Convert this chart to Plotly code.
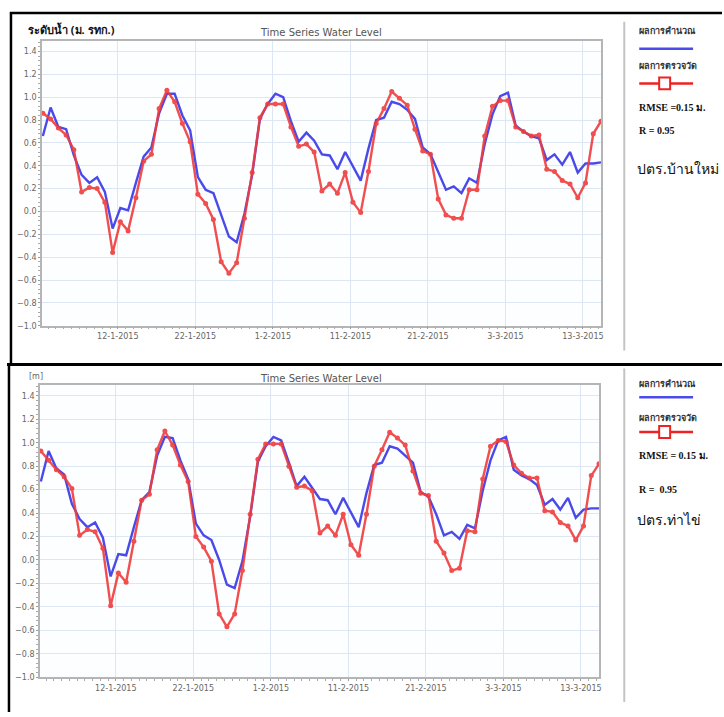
import pandas as pd
import plotly.graph_objects as go

# ---------------- data ----------------
start_time = "2015-01-02 08:00"
n_points = 73

top_computed = [0.66, 0.91, 0.74, 0.72, 0.49, 0.32, 0.25, 0.30, 0.17, -0.15,
                0.03, 0.01, 0.25, 0.48, 0.56, 0.86, 1.03, 1.03, 0.84, 0.71,
                0.30, 0.19, 0.16, -0.03, -0.22, -0.27, -0.02, 0.32, 0.81, 0.94,
                1.03, 1.00, 0.79, 0.61, 0.69, 0.62, 0.50, 0.49, 0.37, 0.52,
                0.39, 0.27, 0.55, 0.80, 0.82, 0.96, 0.94, 0.89, 0.81, 0.56,
                0.50, 0.34, 0.19, 0.22, 0.16, 0.29, 0.25, 0.59, 0.85, 1.01,
                1.04, 0.75, 0.70, 0.66, 0.64, 0.45, 0.50, 0.41, 0.52, 0.34,
                0.42, 0.42, 0.43]
top_observed = [0.86, 0.81, 0.73, 0.67, 0.54, 0.17, 0.21, 0.20, 0.08, -0.36,
                -0.09, -0.17, 0.12, 0.44, 0.50, 0.90, 1.06, 0.96, 0.77, 0.61,
                0.15, 0.07, -0.07, -0.44, -0.54, -0.45, -0.06, 0.34, 0.82, 0.94,
                0.94, 0.94, 0.74, 0.57, 0.59, 0.52, 0.18, 0.24, 0.16, 0.34,
                0.08, -0.01, 0.35, 0.77, 0.90, 1.05, 0.99, 0.93, 0.72, 0.53,
                0.50, 0.11, -0.03, -0.06, -0.06, 0.19, 0.19, 0.66, 0.92, 0.97,
                0.97, 0.74, 0.70, 0.66, 0.67, 0.37, 0.35, 0.27, 0.24, 0.12,
                0.25, 0.68, 0.79]

bot_computed = [0.67, 0.93, 0.78, 0.73, 0.48, 0.35, 0.28, 0.32, 0.19, -0.14,
                0.05, 0.04, 0.28, 0.51, 0.58, 0.89, 1.05, 1.04, 0.85, 0.69,
                0.31, 0.21, 0.17, 0.00, -0.21, -0.24, -0.01, 0.37, 0.84, 0.97,
                1.05, 1.02, 0.83, 0.63, 0.71, 0.62, 0.52, 0.51, 0.39, 0.53,
                0.41, 0.28, 0.57, 0.81, 0.83, 0.97, 0.95, 0.89, 0.83, 0.58,
                0.54, 0.39, 0.21, 0.24, 0.18, 0.30, 0.27, 0.59, 0.85, 1.02,
                1.05, 0.77, 0.72, 0.69, 0.64, 0.47, 0.52, 0.43, 0.53, 0.36,
                0.43, 0.44, 0.44]
bot_observed = [0.93, 0.85, 0.77, 0.71, 0.61, 0.21, 0.26, 0.24, 0.10, -0.39,
                -0.11, -0.19, 0.16, 0.51, 0.56, 0.94, 1.10, 0.98, 0.81, 0.67,
                0.20, 0.11, -0.01, -0.46, -0.57, -0.46, -0.09, 0.39, 0.86, 0.99,
                0.99, 0.99, 0.80, 0.62, 0.63, 0.59, 0.23, 0.29, 0.21, 0.39,
                0.13, 0.04, 0.39, 0.80, 0.94, 1.09, 1.04, 0.98, 0.76, 0.57,
                0.55, 0.16, 0.06, -0.09, -0.07, 0.25, 0.24, 0.69, 0.97, 1.02,
                1.01, 0.81, 0.74, 0.70, 0.70, 0.42, 0.41, 0.32, 0.29, 0.17,
                0.29, 0.72, 0.82]

tick_dates = ["2015-01-12", "2015-01-22", "2015-02-01", "2015-02-11",
              "2015-02-21", "2015-03-03", "2015-03-13"]
tick_labels = ["12-1-2015", "22-1-2015", "1-2-2015", "11-2-2015",
               "21-2-2015", "3-3-2015", "13-3-2015"]

legend_computed = "ผลการคำนวณ"
legend_observed = "ผลการตรวจวัด"
chart_title = "Time Series Water Level"
top_station = "ปตร.บ้านใหม่"
bot_station = "ปตร.ท่าไข่"
top_rmse = "RMSE =0.15 ม."
bot_rmse = "RMSE = 0.15 ม."
top_r = "R = 0.95"
bot_r = "R =  0.95"
top_ylabel = "ระดับน้ำ (ม. รทก.)"
bot_ylabel = "[m]"

# ---------------- figure ----------------
W, H = 724, 717
times = pd.date_range(start_time, periods=n_points, freq="D")


def px(x):
    return x / W


def py(y):
    return 1 - y / H


BLUE = "#4b4bea"
RED = "#f03c3c"
GRID = "#dde7f3"

fig = go.Figure()

for comp, obs, xa, ya in [(top_computed, top_observed, "x", "y"),
                          (bot_computed, bot_observed, "x2", "y2")]:
    fig.add_trace(go.Scatter(x=times, y=comp, mode="lines", xaxis=xa, yaxis=ya,
                             line=dict(color=BLUE, width=2.4), showlegend=False))
    fig.add_trace(go.Scatter(x=times, y=obs, mode="lines+markers", xaxis=xa, yaxis=ya,
                             line=dict(color=RED, width=2.4),
                             marker=dict(color=RED, size=5), opacity=0.9,
                             showlegend=False))

xr = [times[0] - pd.Timedelta(hours=3), times[-1] + pd.Timedelta(hours=1)]


def xaxis_cfg(domain, anchor):
    return dict(domain=domain, anchor=anchor, type="date", range=xr,
                tickvals=tick_dates, ticktext=tick_labels,
                tickfont=dict(family="DejaVu Sans", size=8, color="#666"),
                showgrid=True, gridcolor=GRID, gridwidth=1,
                ticks="outside", ticklen=2, tickcolor="#999",
                minor=dict(ticks="outside", ticklen=2, tickcolor="#aaa",
                           dtick=86400000, showgrid=False),
                showline=True, linecolor="#b5b5b5", linewidth=1.5, mirror=True,
                zeroline=False)


def yaxis_cfg(domain, anchor):
    return dict(domain=domain, anchor=anchor, range=[-1.0, 1.49], dtick=0.2,
                tick0=-1.0, tickformat=".1f",
                tickfont=dict(family="DejaVu Sans", size=8, color="#666"),
                showgrid=True, gridcolor=GRID, gridwidth=1,
                ticks="outside", ticklen=2, tickcolor="#999",
                minor=dict(ticks="outside", ticklen=2, tickcolor="#aaa",
                           dtick=0.04, showgrid=False),
                showline=True, linecolor="#b5b5b5", linewidth=1.5, mirror=True,
                zeroline=False)


fig.update_layout(
    width=W, height=H, margin=dict(l=0, r=0, t=0, b=0),
    paper_bgcolor="white", plot_bgcolor="#fdfeff",
    xaxis=xaxis_cfg([px(42), px(603)], "y"),
    yaxis=yaxis_cfg([py(328), py(41.5)], "x"),
    xaxis2=xaxis_cfg([px(40), px(601)], "y2"),
    yaxis2=yaxis_cfg([py(682), py(388)], "x2"),
)

annotations = []


def text(x, y, s, size, color="#222", family="Noto Sans", bold=False, xanchor="left"):
    annotations.append(dict(x=px(x), y=py(y), xref="paper", yref="paper",
                            text=("<b>%s</b>" % s) if bold else s, showarrow=False,
                            xanchor=xanchor, yanchor="middle",
                            font=dict(size=size, color=color, family=family)))


# titles
text(322, 33, chart_title, 10, "#555", "DejaVu Sans", xanchor="center")
text(322, 381, chart_title, 10, "#555", "DejaVu Sans", xanchor="center")
text(26, 30, top_ylabel, 11, "#111", "Noto Sans", bold=True)
text(27, 379, bot_ylabel, 8, "#666", "DejaVu Sans")

# legend panels
for (y_c, y_o, y_rmse, y_r, y_st, rmse, r, st) in [
        (31, 66, 108, 131, 170, top_rmse, top_r, top_station),
        (386, 420, 459, 493, 523, bot_rmse, bot_r, bot_station)]:
    text(639, y_c, legend_computed, 9, "#333", "Noto Sans", bold=True)
    text(639, y_o, legend_observed, 9, "#333", "Noto Sans", bold=True)
    text(639, y_rmse, rmse, 10, "#111", "Liberation Serif", bold=True)
    text(639, y_r, r, 10, "#111", "Liberation Serif", bold=True)
    text(637, y_st, st, 14, "#111", "Noto Sans")

fig.update_layout(annotations=annotations)

shapes = []


def line(x0, y0, x1, y1, color, width):
    shapes.append(dict(type="line", xref="paper", yref="paper",
                       x0=px(x0), y0=py(y0), x1=px(x1), y1=py(y1),
                       line=dict(color=color, width=width)))


for y_cl, y_ol in [(49, 84), (400, 435)]:
    line(641, y_cl, 695, y_cl, BLUE, 2.5)
    line(641, y_ol, 695, y_ol, "#ee2222", 2.5)
    shapes.append(dict(type="rect", xref="paper", yref="paper",
                       x0=px(661), x1=px(672), y0=py(y_ol - 6), y1=py(y_ol + 6),
                       line=dict(color="#ee2222", width=2), fillcolor="white"))

# gray separators
line(626, 22, 626, 353, "#c4c4c4", 2)
line(626, 371, 626, 707, "#c4c4c4", 2)

# black frame lines
line(10, 13, 724, 13, "#000", 2.5)
line(11, 12, 11, 366, "#000", 2.5)
line(7, 367, 724, 367, "#000", 3)
line(9, 366, 9, 717, "#000", 2.5)

fig.update_layout(shapes=shapes)

fig.write_html("out.html", config={"displayModeBar": False},
               post_script="document.body.style.margin='0';document.body.style.padding='0';")
